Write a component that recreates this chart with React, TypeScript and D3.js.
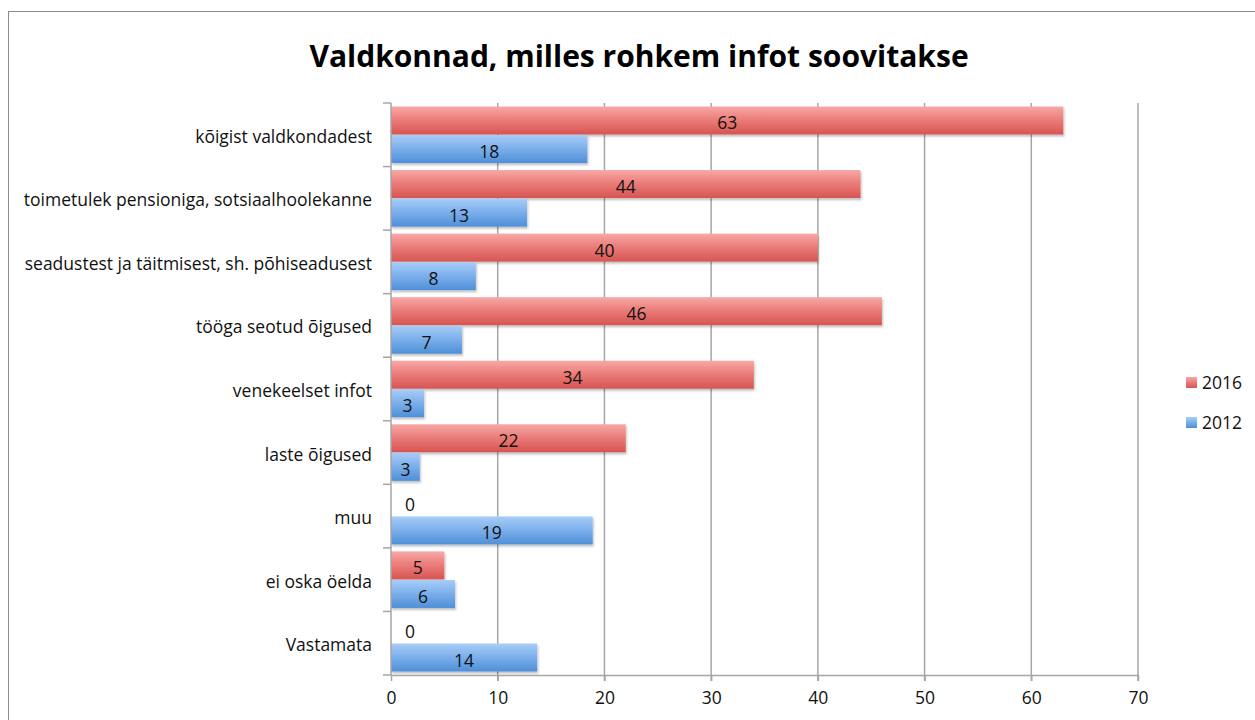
import React, { useEffect, useRef } from "react";
import * as d3 from "d3";

// andmed
const categories = [
  "kõigist valdkondadest",
  "toimetulek pensioniga, sotsiaalhoolekanne",
  "seadustest ja täitmisest, sh. põhiseadusest",
  "tööga seotud õigused",
  "venekeelset infot",
  "laste õigused",
  "muu",
  "ei oska öelda",
  "Vastamata",
];
const values2016 = [63, 44, 40, 46, 34, 22, 0, 5, 0];
const values2012 = [18.4, 12.75, 7.95, 6.65, 3.1, 2.7, 18.9, 6.0, 13.7];
const seriesNames = ["2016", "2012"];
const xTicks = [0, 10, 20, 30, 40, 50, 60, 70];
const title = "Valdkonnad, milles rohkem infot soovitakse";

const FONT = "'Open Sans', Lato, sans-serif";
const FS = "17.5px";

const App = () => {
  const svgRef = useRef<SVGSVGElement | null>(null);

  useEffect(() => {
    const W = 1255;
    const H = 720;
    const margin = { top: 103, left: 391, right: W - 1138, bottom: H - 675 };
    const svg = d3.select(svgRef.current).attr("width", W).attr("height", H);
    svg.selectAll("*").remove();

    // gradiendid
    const defs = svg.append("defs");
    const grads = [
      { id: "gRed", stops: ["#f7a8a6", "#ea7a77", "#d65552"] },
      { id: "gBlue", stops: ["#a8cdf8", "#7aaeea", "#4f8fd8"] },
    ];
    grads.forEach((g) => {
      const lg = defs
        .append("linearGradient")
        .attr("id", g.id)
        .attr("x1", 0)
        .attr("y1", 0)
        .attr("x2", 0)
        .attr("y2", 1);
      lg.append("stop").attr("offset", "0%").attr("stop-color", g.stops[0]);
      lg.append("stop").attr("offset", "50%").attr("stop-color", g.stops[1]);
      lg.append("stop").attr("offset", "100%").attr("stop-color", g.stops[2]);
    });
    const shadow = defs.append("filter").attr("id", "shadow").attr("x", "-5%").attr("y", "-20%").attr("width", "115%").attr("height", "160%");
    shadow
      .append("feDropShadow")
      .attr("dx", 1)
      .attr("dy", 2)
      .attr("stdDeviation", 1.2)
      .attr("flood-color", "#000")
      .attr("flood-opacity", 0.25);

    // raam
    svg
      .append("rect")
      .attr("x", 8.5)
      .attr("y", 11.5)
      .attr("width", W + 20)
      .attr("height", H + 20)
      .attr("fill", "#fff")
      .attr("stroke", "#8c8c8c")
      .attr("stroke-width", 1);

    svg
      .append("text")
      .attr("x", 639)
      .attr("y", 67)
      .attr("text-anchor", "middle")
      .style("font-family", FONT)
      .style("font-size", "30px")
      .style("font-weight", "700")
      .style("fill", "#000")
      .text(title);

    const x = d3.scaleLinear().domain([0, 70]).range([margin.left, W - margin.right]);
    const y = d3
      .scaleBand()
      .domain(categories)
      .range([margin.top, H - margin.bottom])
      .paddingInner(0.11)
      .paddingOuter(0.055);
    const ySub = d3.scaleBand().domain(seriesNames).range([0, y.bandwidth()]).paddingInner(0.02);
    const bandStep = (H - margin.bottom - margin.top) / categories.length;

    // ruudustik
    svg
      .append("g")
      .selectAll("line")
      .data(xTicks.slice(1))
      .enter()
      .append("line")
      .attr("x1", (d) => x(d))
      .attr("x2", (d) => x(d))
      .attr("y1", margin.top)
      .attr("y2", H - margin.bottom + 6)
      .attr("stroke", "#a6a6a6")
      .attr("stroke-width", 1.5);

    // tulbad
    const rows = categories.map((c, i) => ({ c, v: [values2016[i], values2012[i]] }));
    const group = svg
      .append("g")
      .selectAll("g")
      .data(rows)
      .enter()
      .append("g")
      .attr("transform", (d) => `translate(0,${y(d.c)})`);

    seriesNames.forEach((s, si) => {
      group
        .filter((d) => d.v[si] > 0)
        .append("rect")
        .attr("x", x(0))
        .attr("y", ySub(s)!)
        .attr("width", (d) => x(d.v[si]) - x(0))
        .attr("height", ySub.bandwidth())
        .attr("fill", si === 0 ? "url(#gRed)" : "url(#gBlue)")
        .attr("filter", "url(#shadow)");

      group
        .append("text")
        .attr("x", (d) => (d.v[si] > 0 ? (x(0) + x(d.v[si])) / 2 : x(0) + 19))
        .attr("y", ySub(s)! + ySub.bandwidth() / 2 + 9)
        .attr("text-anchor", "middle")
        .style("font-family", FONT)
        .style("font-size", FS)
        .style("fill", "#111")
        .text((d) => Math.round(d.v[si]).toString());
    });

    // teljed
    const xAxis = svg
      .append("g")
      .attr("transform", `translate(0,${H - margin.bottom})`)
      .call(d3.axisBottom(x).tickValues(xTicks).tickSize(6).tickSizeOuter(0));
    xAxis.select(".domain").attr("stroke", "#a6a6a6").attr("stroke-width", 1.5);
    xAxis.selectAll(".tick line").attr("stroke", "#a6a6a6").attr("stroke-width", 1.5);
    xAxis
      .selectAll(".tick text")
      .attr("y", 17)
      .style("font-family", FONT)
      .style("font-size", FS)
      .style("fill", "#111");

    const yAxisG = svg.append("g");
    yAxisG
      .append("line")
      .attr("x1", x(0))
      .attr("x2", x(0))
      .attr("y1", margin.top)
      .attr("y2", H - margin.bottom)
      .attr("stroke", "#a6a6a6")
      .attr("stroke-width", 1.5);
    yAxisG
      .selectAll("line.tk")
      .data(d3.range(categories.length + 1))
      .enter()
      .append("line")
      .attr("class", "tk")
      .attr("x1", x(0) - 8)
      .attr("x2", x(0))
      .attr("y1", (i) => margin.top + i * bandStep)
      .attr("y2", (i) => margin.top + i * bandStep)
      .attr("stroke", "#a6a6a6")
      .attr("stroke-width", 1.5);
    yAxisG
      .selectAll("text")
      .data(categories)
      .enter()
      .append("text")
      .attr("x", 372)
      .attr("y", (d) => y(d)! + y.bandwidth() / 2 + 8)
      .attr("text-anchor", "end")
      .style("font-family", FONT)
      .style("font-size", FS)
      .style("fill", "#111")
      .text((d) => d);

    // legend
    const legend = svg.append("g");
    seriesNames.forEach((s, i) => {
      const ly = 383 + i * 40;
      legend
        .append("rect")
        .attr("x", 1186)
        .attr("y", ly - 6)
        .attr("width", 11)
        .attr("height", 11)
        .attr("fill", i === 0 ? "url(#gRed)" : "url(#gBlue)");
      legend
        .append("text")
        .attr("x", 1202)
        .attr("y", ly + 6)
        .style("font-family", FONT)
        .style("font-size", FS)
        .style("fill", "#111")
        .text(s);
    });
  }, []);

  return <svg ref={svgRef} style={{ position: "absolute", left: 0, top: 0 }}></svg>;
};

export default App;
